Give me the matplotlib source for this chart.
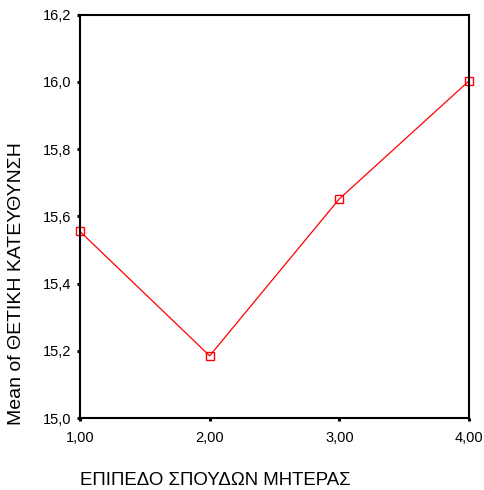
import matplotlib
matplotlib.use('Agg')
import matplotlib.pyplot as plt

plt.rcParams['font.family'] = ['Liberation Sans', 'DejaVu Sans']

# mother's education level vs mean score
levels = [1.0, 2.0, 3.0, 4.0]
means = [15.555, 15.185, 15.652, 16.003]
xticklabels = ['1,00', '2,00', '3,00', '4,00']
yticks = [15.0, 15.2, 15.4, 15.6, 15.8, 16.0, 16.2]
yticklabels = ['15,0', '15,2', '15,4', '15,6', '15,8', '16,0', '16,2']

fig = plt.figure(figsize=(4.84, 4.90), dpi=100)
ax = fig.add_axes([80/484, (490-418)/490, (469-80)/484, (418-14.7)/490])

ax.plot(levels, means, color='#ff0000', lw=0.9, marker='s', ms=6.4,
        mfc='none', mec='#ff0000', mew=1.0, clip_on=False)

ax.set_xlim(1, 4)
ax.set_ylim(15.0, 16.2)
ax.set_xticks(levels)
ax.set_xticklabels(xticklabels)
ax.set_yticks(yticks)
ax.set_yticklabels(yticklabels)
for s in ax.spines.values():
    s.set_linewidth(1.5)
    s.set_color('black')
ax.tick_params(direction='out', length=2.5, width=2.2, labelsize=10.5, color='black')
ax.tick_params(axis='x', pad=7)
ax.tick_params(axis='y', pad=4)

fig.text(17/484, 1 - 284/490, 'Mean of ΘΕΤΙΚΗ ΚΑΤΕΥΘΥΝΣΗ', rotation=90,
         ha='center', va='center', fontsize=14)
fig.text(80/484, 1 - 480/490, 'ΕΠΙΠΕΔΟ ΣΠΟΥΔΩΝ ΜΗΤΕΡΑΣ', ha='left', va='center',
         fontsize=13.4)

fig.savefig('out.png', dpi=100)
